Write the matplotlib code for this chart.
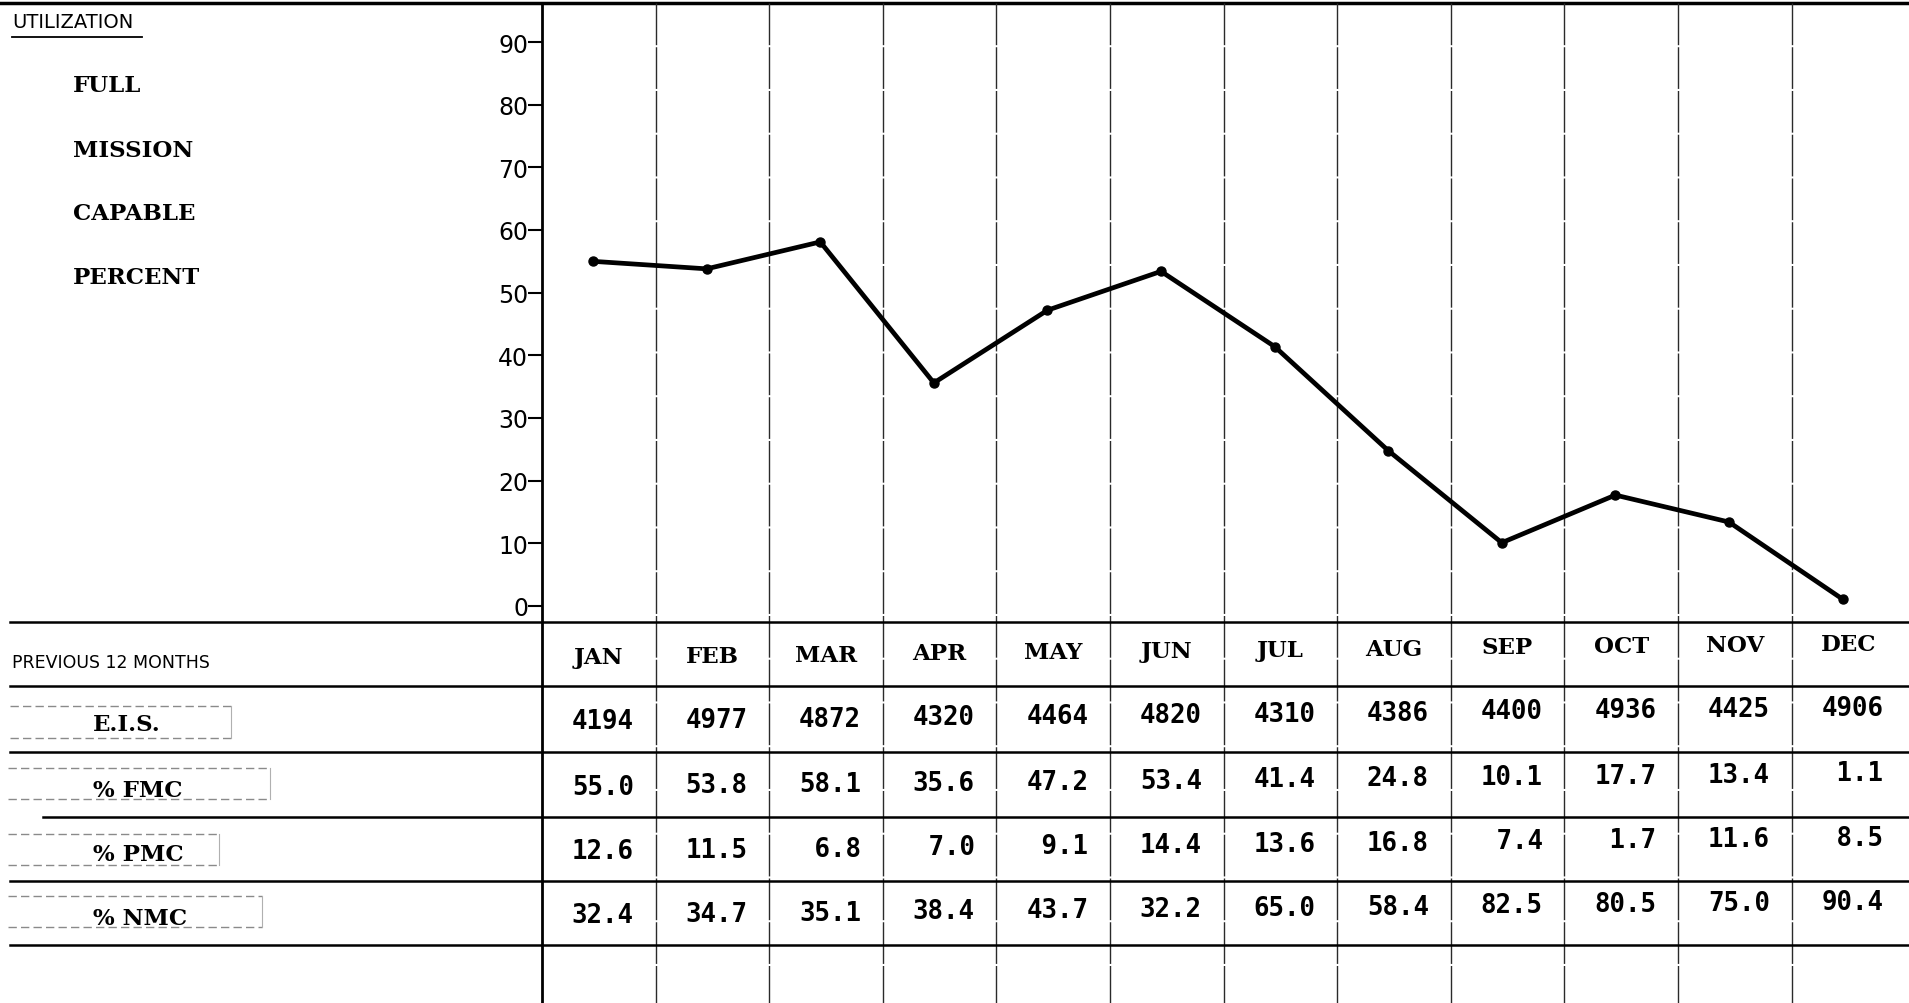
import numpy as np
import matplotlib.pyplot as plt

months = ["JAN", "FEB", "MAR", "APR", "MAY", "JUN", "JUL", "AUG", "SEP", "OCT", "NOV", "DEC"]
eis = [4194, 4977, 4872, 4320, 4464, 4820, 4310, 4386, 4400, 4936, 4425, 4906]
fmc = [55.0, 53.8, 58.1, 35.6, 47.2, 53.4, 41.4, 24.8, 10.1, 17.7, 13.4, 1.1]
pmc = [12.6, 11.5, 6.8, 7.0, 9.1, 14.4, 13.6, 16.8, 7.4, 1.7, 11.6, 8.5]
nmc = [32.4, 34.7, 35.1, 38.4, 43.7, 32.2, 65.0, 58.4, 82.5, 80.5, 75.0, 90.4]
yticks = [0, 10, 20, 30, 40, 50, 60, 70, 80, 90]
side_words = ["FULL", "MISSION", "CAPABLE", "PERCENT"]
row_names = ["E.I.S.", "% FMC", "% PMC", "% NMC"]

W, H = 1909, 1004
fig = plt.figure(figsize=(W / 100, H / 100), dpi=100)
fig.patch.set_facecolor("white")

# background axes in pixel units for the form (lines, table text)
bg = fig.add_axes([0, 0, 1, 1])
bg.set_xlim(0, W)
bg.set_ylim(H, 0)
bg.axis("off")

x0, cw = 542, 113.6          # left axis line, column width
top, y_head = 4, 623
row_lines = [623, 687, 753, 818, 882, 946]
tilt = 0.0105                # scan is slightly rotated

lab = dict(family="DejaVu Serif", weight="bold", size=16.5, color="black")
num = dict(family="DejaVu Sans Mono", weight="bold", size=18.5, color="black")

# top rule and vertical column lines
bg.plot([0, W], [top, top], color="black", lw=2.5)
bg.plot([x0, x0], [top, H], color="black", lw=2)
for i in range(1, 12):
    xc = x0 + i * cw
    bg.plot([xc, xc], [top, H], color="#2a2a2a", lw=1.0, ls=(0, (30, 1.5)))

# table horizontal rules
for k, y in enumerate(row_lines):
    xs = 43 if k == 3 else 10
    bg.plot([xs, W], [y, y], color="black", lw=1.8)

# faint boxes around the row labels
faint = dict(color="#8a8a8a", lw=1, ls=(0, (6, 3)))
boxes = [(10, 231, 707, 739), (8, 270, 769, 800), (8, 219, 835, 866), (8, 262, 897, 928)]
for xa, xb, ya, yb in boxes:
    bg.plot([xa, xb], [ya, ya], **faint)
    bg.plot([xa, xb], [yb, yb], **faint)
    bg.plot([xb, xb], [ya, yb], color="#b0b0b0", lw=0.8)

# header texts
bg.text(12, 23, "UTILIZATION", family="DejaVu Sans", size=14, va="center", ha="left")
bg.plot([12, 142], [38, 38], color="black", lw=1.3)
for w, y in zip(side_words, [86, 151, 214, 278]):
    bg.text(73, y, w, va="center", ha="left", **lab)
bg.text(12, 663, "PREVIOUS 12 MONTHS", family="DejaVu Sans", size=12.5, va="center", ha="left")

# table contents
centres = [(row_lines[k] + row_lines[k + 1]) / 2 for k in range(5)]
for k, (name, y) in enumerate(zip(row_names, centres[1:])):
    bg.text(93, y + (600 - 93) * tilt, name, va="center", ha="left", **lab)

rows = [[str(v) for v in eis],
        ["%4.1f" % v for v in fmc],
        ["%4.1f" % v for v in pmc],
        ["%4.1f" % v for v in nmc]]
for i, m in enumerate(months):
    xc = x0 + (i + 0.5) * cw
    dy = (600 - xc) * tilt
    bg.text(xc, centres[0] + dy + 3, m, va="center", ha="center", **lab)
    for r, vals in enumerate(rows):
        bg.text(xc + 4, centres[r + 1] + dy + 2, vals[i], va="center", ha="center", **num)

# chart area: 0 sits at y=607 px, 90 at y=43 px
ppu = (607 - 43) / 90.0
ax = fig.add_axes([x0 / W, 1 - y_head / H, (W - 4 - x0) / W, (y_head - top) / H])
ax.set_xlim(0, 12)
ax.set_ylim(-(y_head - 607) / ppu, (607 - top) / ppu)
ax.patch.set_alpha(0)
for s in ax.spines.values():
    s.set_visible(False)
ax.plot(np.arange(12) + 0.45, fmc, color="black", lw=3.4, marker="o", ms=6.5, solid_joinstyle="round")
ax.set_xticks([])
ax.set_yticks(yticks)
ax.set_yticklabels([str(t) for t in yticks], family="DejaVu Sans", size=17)
ax.tick_params(axis="y", direction="out", length=10, width=1.5, pad=0)

fig.savefig("out.png", dpi=100, facecolor="white")
